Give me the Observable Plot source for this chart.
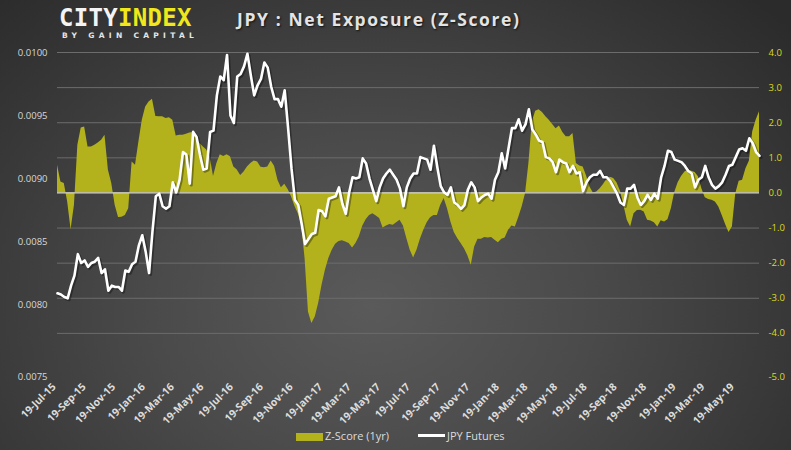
<!DOCTYPE html>
<html>
<head>
<meta charset="utf-8">
<script src="https://cdn.jsdelivr.net/npm/d3@7"></script>
<script src="https://cdn.jsdelivr.net/npm/@observablehq/plot@0.6"></script>
<style>
  html, body { margin: 0; padding: 0; }
  body { width: 791px; height: 450px; overflow: hidden; }
  #wrap {
    position: relative; width: 791px; height: 450px;
    background: radial-gradient(ellipse 70% 95% at 47% 68%, #5a5a5a 0%, #4a4a4a 40%, #2b2b2b 100%);
    font-family: "Open Sans", "DejaVu Sans", sans-serif;
  }
  #chart { position: absolute; left: 0; top: 0; }
  .logo { position: absolute; left: 59px; top: 3px; font-family: "DejaVu Sans Mono", monospace; font-weight: bold; font-size: 24px; letter-spacing: 0.3px; line-height: 30px; }
  .logo .c { color: #f4f4f4; }
  .logo .i { color: #f0e81a; }
  .sub { position: absolute; left: 62px; top: 31px; font-family: "DejaVu Sans", sans-serif; font-weight: bold; font-size: 7.5px; letter-spacing: 4.3px; color: #e6e6e6; }
  .title { position: absolute; left: 237px; top: 7px; font-weight: bold; font-size: 17.5px; letter-spacing: 1.6px; color: #e4e4e4; text-shadow: 1px 1px 2px #111; }
  .leg { position: absolute; top: 429px; font-size: 11px; color: #dcdcdc; line-height: 14px; }
</style>
</head>
<body>
<div id="wrap">
  <div id="chart"></div>
  <div class="logo"><span class="c">CITY</span><span class="i">INDEX</span></div>
  <div class="sub">BY GAIN CAPITAL</div>
  <div class="title">JPY : Net Exposure (Z-Score)</div>
  <div class="leg" style="left:296px;"><span style="display:inline-block;width:27px;height:8px;background:#b3b21d;vertical-align:-1px;"></span><span style="margin-left:2px;">Z-Score (1yr)</span></div>
  <div class="leg" style="left:418px;"><span style="display:inline-block;width:27px;height:3px;background:#ffffff;vertical-align:3px;"></span><span style="margin-left:2px;">JPY Futures</span></div>
</div>
<script>
// ---- data (weekly, first week 19-Jul-2015) ----
const startDate = "2015-07-19";
const endDate = "2019-07-07";

const zScore = [
  0.79, 0.31, 0.27, -0.26, -1.05, -0.35, 1.36, 1.85, 1.88, 1.31,
  1.31, 1.36, 1.42, 1.50, 1.64, 0.65, 0.27, -0.35, -0.70, -0.69,
  -0.64, -0.45, 0.88, 0.79, 1.45, 2.07, 2.45, 2.59, 2.67, 2.18,
  2.17, 2.17, 2.12, 2.14, 2.07, 1.62, 1.64, 1.64, 1.67, 1.71,
  1.72, 1.53, 1.41, 1.31, 1.22, 1.03, 0.47, 0.84, 1.09, 1.04,
  1.09, 1.03, 0.74,
  0.65, 0.50, 0.60, 0.74, 0.84, 0.91, 0.88, 0.73, 0.72, 0.74,
  0.91, 0.76, 0.36, 0.15, 0.25, 0.10, -0.11, -0.38, -0.59, -0.92,
  -1.87, -3.39, -3.72, -3.53, -3.15, -2.63, -2.20, -1.87, -1.63, -1.46,
  -1.38, -1.36, -1.40, -1.44, -1.57, -1.44, -1.25, -0.95, -0.76, -0.64,
  -0.59, -0.66, -0.73, -1.00, -0.94, -0.90, -0.92, -0.85, -0.78, -0.94,
  -1.30,
  -1.63, -1.85, -1.63, -1.32, -1.06, -0.85, -0.71, -0.64, -0.64, -0.35,
  -0.16, -0.45, -0.83, -1.13, -1.30, -1.44, -1.59, -1.79, -2.06, -1.54,
  -1.32, -1.32, -1.27, -1.28, -1.27, -1.35, -1.42, -1.32, -1.28, -1.06,
  -0.94, -0.97, -0.70, -0.40, -0.02, 0.84, 2.02, 2.33, 2.37, 2.29,
  2.17, 2.07, 1.95, 1.83, 1.91, 1.72, 1.60, 1.60, 1.69, 0.84,
  0.77,
  0.74, 0.48, 0.17, 0.00, 0.03, 0.12, 0.24, 0.39, 0.45, 0.41,
  0.28, 0.05, -0.35, -0.78, -0.97, -0.59, -0.50, -0.49, -0.54, -0.78,
  -0.80, -0.85, -0.97, -0.79, -0.83, -0.76, -0.45, 0.01, 0.29, 0.47,
  0.60, 0.65, 0.62, 0.58, 0.46, 0.12, -0.14, -0.19, -0.21, -0.26,
  -0.40, -0.64, -0.90, -1.13, -0.97, -0.02, 0.33, 0.36, 0.69, 0.90,
  1.74, 2.07, 2.31
];

const jpyFutures = [
  0.00809, 0.00808, 0.00806, 0.00805, 0.00815, 0.00823, 0.00840, 0.00833, 0.00835, 0.00830,
  0.00833, 0.00834, 0.00837, 0.00825, 0.00828, 0.00811, 0.00815, 0.00814, 0.00814, 0.00811,
  0.00827, 0.00826, 0.00832, 0.00834, 0.00847, 0.00855, 0.00842, 0.00825, 0.00858, 0.00886,
  0.00888, 0.00878, 0.00876, 0.00878, 0.00897, 0.00889, 0.00899, 0.00921, 0.00919, 0.00896,
  0.00937, 0.00933, 0.00919, 0.00907, 0.00908, 0.00937, 0.00938, 0.00966, 0.00981, 0.00978,
  0.00998, 0.00950, 0.00944,
  0.00981, 0.00983, 0.00989, 0.00999, 0.00982, 0.00966, 0.00974, 0.00979, 0.00992, 0.00988,
  0.00973, 0.00963, 0.00963, 0.00957, 0.00970, 0.00940, 0.00908, 0.00883, 0.00879, 0.00864,
  0.00848, 0.00852, 0.00856, 0.00857, 0.00875, 0.00874, 0.00870, 0.00884, 0.00885, 0.00886,
  0.00893, 0.00880, 0.00872, 0.00889, 0.00901, 0.00900, 0.00901, 0.00916, 0.00912, 0.00900,
  0.00891, 0.00882, 0.00893, 0.00900, 0.00904, 0.00907, 0.00903, 0.00899, 0.00892, 0.00878,
  0.00893,
  0.00900, 0.00904, 0.00904, 0.00917, 0.00916, 0.00915, 0.00907, 0.00926, 0.00909, 0.00894,
  0.00889, 0.00887, 0.00893, 0.00881, 0.00879, 0.00876, 0.00879, 0.00891, 0.00897, 0.00893,
  0.00882, 0.00885, 0.00887, 0.00888, 0.00884, 0.00899, 0.00905, 0.00920, 0.00908, 0.00924,
  0.00940, 0.00940, 0.00947, 0.00938, 0.00943, 0.00955, 0.00939, 0.00935, 0.00930, 0.00929,
  0.00917, 0.00916, 0.00913, 0.00905, 0.00915, 0.00913, 0.00912, 0.00905, 0.00910, 0.00904,
  0.00905, 0.00890, 0.00897,
  0.00901, 0.00903, 0.00903, 0.00906, 0.00901, 0.00901, 0.00898, 0.00893, 0.00888, 0.00881,
  0.00879, 0.00892, 0.00892, 0.00895, 0.00885, 0.00879, 0.00882, 0.00887, 0.00883, 0.00888,
  0.00884, 0.00901, 0.00910, 0.00922, 0.00921, 0.00915, 0.00914, 0.00913, 0.00910, 0.00906,
  0.00904, 0.00893, 0.00899, 0.00901, 0.00910, 0.00901, 0.00895, 0.00892, 0.00894, 0.00897,
  0.00903, 0.00910, 0.00911, 0.00917, 0.00923, 0.00924, 0.00922, 0.00932, 0.00928, 0.00921,
  0.00918
];

const leftTicks = [0.0100, 0.0095, 0.0090, 0.0085, 0.0080, 0.0075];
const rightTicks = [4, 3, 2, 1, 0, -1, -2, -3, -4, -5];
const xTickLabels = ["2015-07-19","2015-09-19","2015-11-19","2016-01-19","2016-03-19","2016-05-19",
  "2016-07-19","2016-09-19","2016-11-19","2017-01-19","2017-03-19","2017-05-19",
  "2017-07-19","2017-09-19","2017-11-19","2018-01-19","2018-03-19","2018-05-19",
  "2018-07-19","2018-09-19","2018-11-19","2019-01-19","2019-03-19","2019-05-19"];

// ---- build ----
const t0 = new Date(startDate + "T00:00:00Z");
const data = zScore.map((z, i) => ({ date: d3.utcDay.offset(t0, 7 * i), z, jpy: jpyFutures[i] }));
// secondary (left) axis mapped onto the Z-score scale: 0.0100 -> 4.0, 0.0001 = 0.359 units
const priceToZ = p => 4 - (0.0100 - p) * 3590;
const fmtDate = d3.utcFormat("%d-%b-%y");
const xTicks = xTickLabels.map(s => new Date(s + "T00:00:00Z"));

const chart = Plot.plot({
  width: 791, height: 450,
  marginLeft: 57, marginRight: 32, marginTop: 52, marginBottom: 82,
  style: { background: "transparent", overflow: "visible", fontFamily: "'Open Sans', sans-serif" },
  x: { type: "utc", domain: [t0, new Date(endDate + "T00:00:00Z")], axis: null },
  y: { domain: [-5, 4], axis: null },
  marks: [
    Plot.ruleY(rightTicks.filter(d => d !== 0 && d > -5), { stroke: "#6c6c6c", strokeWidth: 1 }),
    Plot.areaY(data, { x: "date", y: "z", fill: "#b3b21d" }),
    Plot.ruleY([0], { stroke: "#d4d4d4", strokeWidth: 1.3 }),
    Plot.line(data, { x: "date", y: d => priceToZ(d.jpy), stroke: "#000", strokeOpacity: 0.35, strokeWidth: 3, dx: 1.5, dy: 1.5, strokeLinejoin: "round" }),
    Plot.line(data, { x: "date", y: d => priceToZ(d.jpy), stroke: "#ffffff", strokeWidth: 2.6, strokeLinejoin: "round" }),
    Plot.text(leftTicks.slice(0, 5), { y: d => priceToZ(d), frameAnchor: "left", text: d => d.toFixed(4), dx: -10, textAnchor: "end", fill: "#d8d8d8", fontSize: 9.5 }),
    Plot.text(leftTicks.slice(5), { y: d => priceToZ(d), frameAnchor: "left", text: d => d.toFixed(4), dx: -10, dy: 9, textAnchor: "end", fill: "#d8d8d8", fontSize: 9.5 }),
    Plot.text(rightTicks.slice(0, 9), { y: d => d, frameAnchor: "right", text: d => d.toFixed(1), dx: 9, textAnchor: "start", fill: "#dcd91e", fontSize: 9.5 }),
    Plot.text(rightTicks.slice(9), { y: d => d, frameAnchor: "right", text: d => d.toFixed(1), dx: 9, dy: 8.5, textAnchor: "start", fill: "#dcd91e", fontSize: 9.5 }),
    Plot.text(xTicks, { x: d => d, frameAnchor: "bottom", text: d => fmtDate(d), rotate: -45, textAnchor: "end", dx: -1, dy: 19, fill: "#dcdcdc", fontWeight: "bold", fontSize: 10.5 })
  ]
});
document.getElementById("chart").appendChild(chart);
</script>
</body>
</html>
